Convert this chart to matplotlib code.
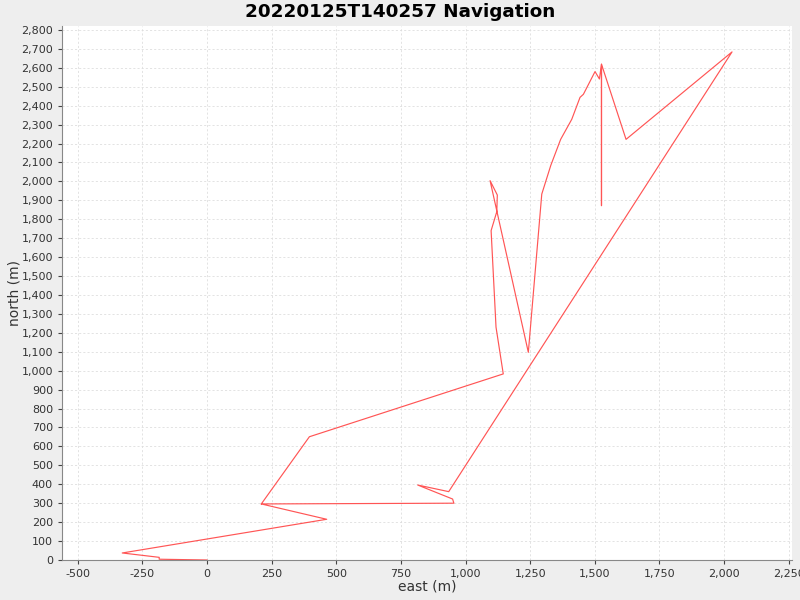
import matplotlib
matplotlib.use("Agg")
import matplotlib.pyplot as plt
from matplotlib.ticker import MultipleLocator, FuncFormatter

title = "20220125T140257 Navigation"

# track in time order (east, north) in metres
east = [0, -185, -185, -328, 463, 210, 955, 950, 815, 935, 2031, 1621,
        1526, 1526, 1526, 1518, 1501, 1456, 1443, 1411, 1368, 1330, 1295,
        1243, 1095, 1123, 1121, 1099, 1118, 1146, 396, 210]
north = [0, 4, 14, 37, 215, 296, 300, 322, 396, 361, 2684, 2222,
         2619, 1872, 2619, 2541, 2580, 2460, 2444, 2328, 2222, 2085, 1933,
         1097, 2004, 1928, 1840, 1740, 1230, 983, 651, 296]

fig = plt.figure(figsize=(8, 6), dpi=100, facecolor="#eeeeee")
ax = fig.add_axes([0.0775, 0.0667, 0.9125, 0.89])
ax.set_facecolor("white")

ax.plot(east, north, color="#ff5555", lw=0.85)

ax.set_xlim(-561, 2263)
ax.set_ylim(0, 2821)
ax.xaxis.set_major_locator(MultipleLocator(250))
ax.yaxis.set_major_locator(MultipleLocator(100))
fmt = FuncFormatter(lambda v, p: f"{int(round(v)):,}")
ax.xaxis.set_major_formatter(fmt)
ax.yaxis.set_major_formatter(fmt)

ax.grid(True, color="#dedede", ls=(0, (2.5, 2.5)), lw=0.6)
ax.set_axisbelow(True)
for s in ["top", "right"]:
    ax.spines[s].set_visible(False)
for s in ["left", "bottom"]:
    ax.spines[s].set_color("#888888")
ax.tick_params(labelsize=8, colors="#444444", length=3, width=0.8, labelcolor="#333333")

ax.set_xlabel("east (m)", fontsize=10, color="#333333", labelpad=0)
ax.set_ylabel("north (m)", fontsize=10, color="#333333", labelpad=-0.5)
fig.suptitle(title, fontsize=13.2, fontweight="bold", y=0.995, va="top")

fig.savefig("out.png", dpi=100, facecolor=fig.get_facecolor())
